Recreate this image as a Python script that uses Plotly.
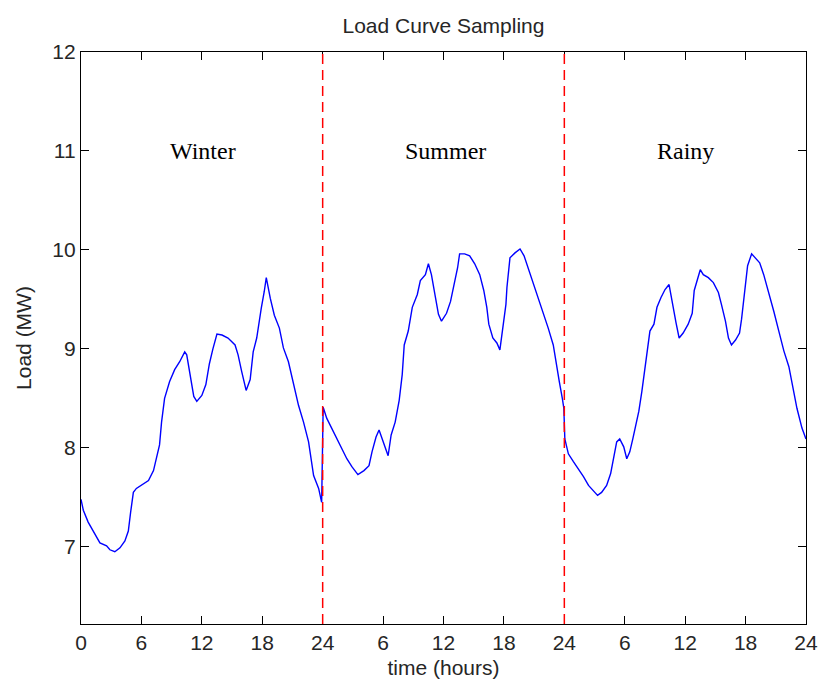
import plotly.graph_objects as go

# ---- data ----
hours = [
    # Winter (0-24)
    0.0, 0.23, 0.71, 1.38, 1.88, 2.54, 2.87, 3.36, 3.87, 4.36, 4.7, 4.93, 5.2, 5.5, 6.0,
    6.7, 7.2, 7.5, 7.8, 8.0, 8.3, 8.8, 9.3, 9.8, 10.3, 10.5, 10.8, 11.2, 11.5, 12.0,
    12.4, 12.75, 13.1, 13.5, 14.0, 14.6, 15.3, 15.6, 15.96, 16.4, 16.8, 17.1, 17.45,
    17.7, 17.9, 18.2, 18.4, 18.8, 19.2, 19.7, 20.1, 20.6, 21.1, 21.6, 22.1, 22.6,
    23.1, 23.6, 23.9,
    # Summer (24-48)
    24.05, 24.4, 24.9, 25.4, 25.9, 26.4, 26.9, 27.5, 28.1, 28.6, 28.9, 29.3, 29.6,
    30.0, 30.5, 30.8, 31.2, 31.6, 31.9, 32.1, 32.5, 32.9, 33.4, 33.7, 34.2, 34.5,
    34.8, 35.2, 35.5, 35.8, 36.3, 36.7, 37.0, 37.4, 37.6, 38.1, 38.6, 39.1, 39.6,
    40.0, 40.3, 40.5, 40.9, 41.3, 41.6, 41.8, 42.0, 42.2, 42.3, 42.6, 43.1, 43.6,
    44.0, 44.4, 44.9, 45.4, 45.9, 46.4, 46.9, 47.2, 47.5, 47.8, 47.95,
    # Rainy (48-72)
    48.05, 48.4, 48.9, 49.4, 49.9, 50.4, 50.9, 51.3, 51.7, 52.2, 52.6, 52.9, 53.2,
    53.5, 53.9, 54.2, 54.5, 54.8, 55.1, 55.4, 55.7, 56.0, 56.2, 56.5, 56.9, 57.2,
    57.6, 58.0, 58.4, 58.6, 58.8, 59.1, 59.4, 59.8, 60.3, 60.7, 60.9, 61.3, 61.5,
    61.8, 62.3, 62.8, 63.3, 63.6, 64.0, 64.3, 64.6, 65.0, 65.4, 65.6, 65.8, 66.0,
    66.2, 66.6, 67.0, 67.4, 67.8, 68.3, 68.8, 69.3, 69.8, 70.3, 70.7, 71.1, 71.6,
    72.0,
]
load_mw = [
    # Winter
    7.48, 7.37, 7.25, 7.13, 7.04, 7.01, 6.97, 6.95, 6.99, 7.06, 7.16, 7.35, 7.55, 7.59, 7.62,
    7.67, 7.77, 7.89, 8.03, 8.26, 8.50, 8.67, 8.79, 8.87, 8.97, 8.94, 8.74, 8.52, 8.47, 8.53,
    8.64, 8.85, 9.00, 9.15, 9.14, 9.11, 9.04, 8.94, 8.77, 8.58, 8.69, 8.97, 9.11,
    9.31, 9.41, 9.58, 9.72, 9.51, 9.34, 9.21, 9.01, 8.87, 8.64, 8.43, 8.26, 8.06,
    7.72, 7.59, 7.45,
    # Summer
    8.41, 8.30, 8.20, 8.09, 7.99, 7.89, 7.81, 7.73, 7.77, 7.82, 7.96, 8.11, 8.18,
    8.06, 7.92, 8.13, 8.26, 8.48, 8.74, 9.04, 9.18, 9.42, 9.55, 9.69, 9.75, 9.86,
    9.75, 9.52, 9.35, 9.28, 9.36, 9.48, 9.62, 9.82, 9.96, 9.96, 9.94, 9.86, 9.75,
    9.59, 9.42, 9.25, 9.11, 9.06, 8.99, 9.14, 9.31, 9.45, 9.62, 9.92, 9.97, 10.01,
    9.94, 9.82, 9.67, 9.53, 9.38, 9.21, 9.04, 8.84, 8.67, 8.50, 8.40,
    # Rainy
    8.09, 7.94, 7.86, 7.79, 7.71, 7.62, 7.57, 7.52, 7.55, 7.62, 7.74, 7.89, 8.06,
    8.09, 8.01, 7.89, 7.96, 8.09, 8.23, 8.37, 8.57, 8.79, 8.98, 9.18, 9.25, 9.42,
    9.52, 9.60, 9.65, 9.53, 9.42, 9.26, 9.11, 9.16, 9.25, 9.36, 9.59, 9.75, 9.80,
    9.75, 9.72, 9.67, 9.57, 9.45, 9.28, 9.11, 9.04, 9.09, 9.16, 9.30, 9.47, 9.65,
    9.84, 9.96, 9.92, 9.87, 9.75, 9.57, 9.38, 9.18, 8.98, 8.82, 8.60, 8.40, 8.20,
    8.09,
]

season_names = ["Winter", "Summer", "Rainy"]
season_centers = [12.1, 36.2, 60.0]
season_label_y = 11.0
season_bounds = [24, 48]

x_tick_vals = [0, 6, 12, 18, 24, 30, 36, 42, 48, 54, 60, 66, 72]
x_tick_text = ["0", "6", "12", "18", "24", "6", "12", "18", "24", "6", "12", "18", "24"]
y_tick_vals = [7, 8, 9, 10, 11, 12]
y_range = [6.22, 12]
x_range = [0, 72]

SANS = "Liberation Sans, Arial, sans-serif"
SERIF = "Liberation Serif, Times New Roman, serif"
TXT = "#262626"

fig = go.Figure()
fig.add_trace(go.Scatter(
    x=hours, y=load_mw, mode="lines",
    line=dict(color="#0000FF", width=1.4),
    showlegend=False, hoverinfo="skip",
))

for b in season_bounds:
    fig.add_shape(type="line", x0=b, x1=b, y0=y_range[0], y1=y_range[1],
                  xref="x", yref="y", layer="above",
                  line=dict(color="#FF0000", width=1.5, dash="10px,6px"))

for name, cx in zip(season_names, season_centers):
    fig.add_annotation(x=cx, y=season_label_y, text=name, showarrow=False,
                       xanchor="center", yanchor="middle",
                       font=dict(family=SERIF, size=24, color="#000000"))

axis_common = dict(
    showline=True, linecolor="#000000", linewidth=1.3, mirror="ticks",
    ticks="inside", ticklen=8, tickwidth=1.2, tickcolor="#000000",
    showgrid=False, zeroline=False, automargin=False,
    tickfont=dict(family=SANS, size=21, color=TXT),
)

fig.update_xaxes(range=x_range, tickvals=x_tick_vals, ticktext=x_tick_text,
                 title=dict(text="time (hours)", font=dict(family=SANS, size=21, color=TXT), standoff=6),
                 **axis_common)
fig.update_yaxes(range=y_range, tickvals=y_tick_vals,
                 title=dict(text="Load (MW)", font=dict(family=SANS, size=21, color=TXT), standoff=14),
                 **axis_common)

fig.update_layout(
    width=819, height=682,
    margin=dict(l=81, r=13, t=52, b=58),
    paper_bgcolor="#FFFFFF", plot_bgcolor="#FFFFFF",
    title=dict(text="Load Curve Sampling", x=0.5415, xanchor="center",
               y=0.962, yanchor="middle",
               font=dict(family=SANS, size=21, color=TXT)),
)

fig.write_html("out.html")
